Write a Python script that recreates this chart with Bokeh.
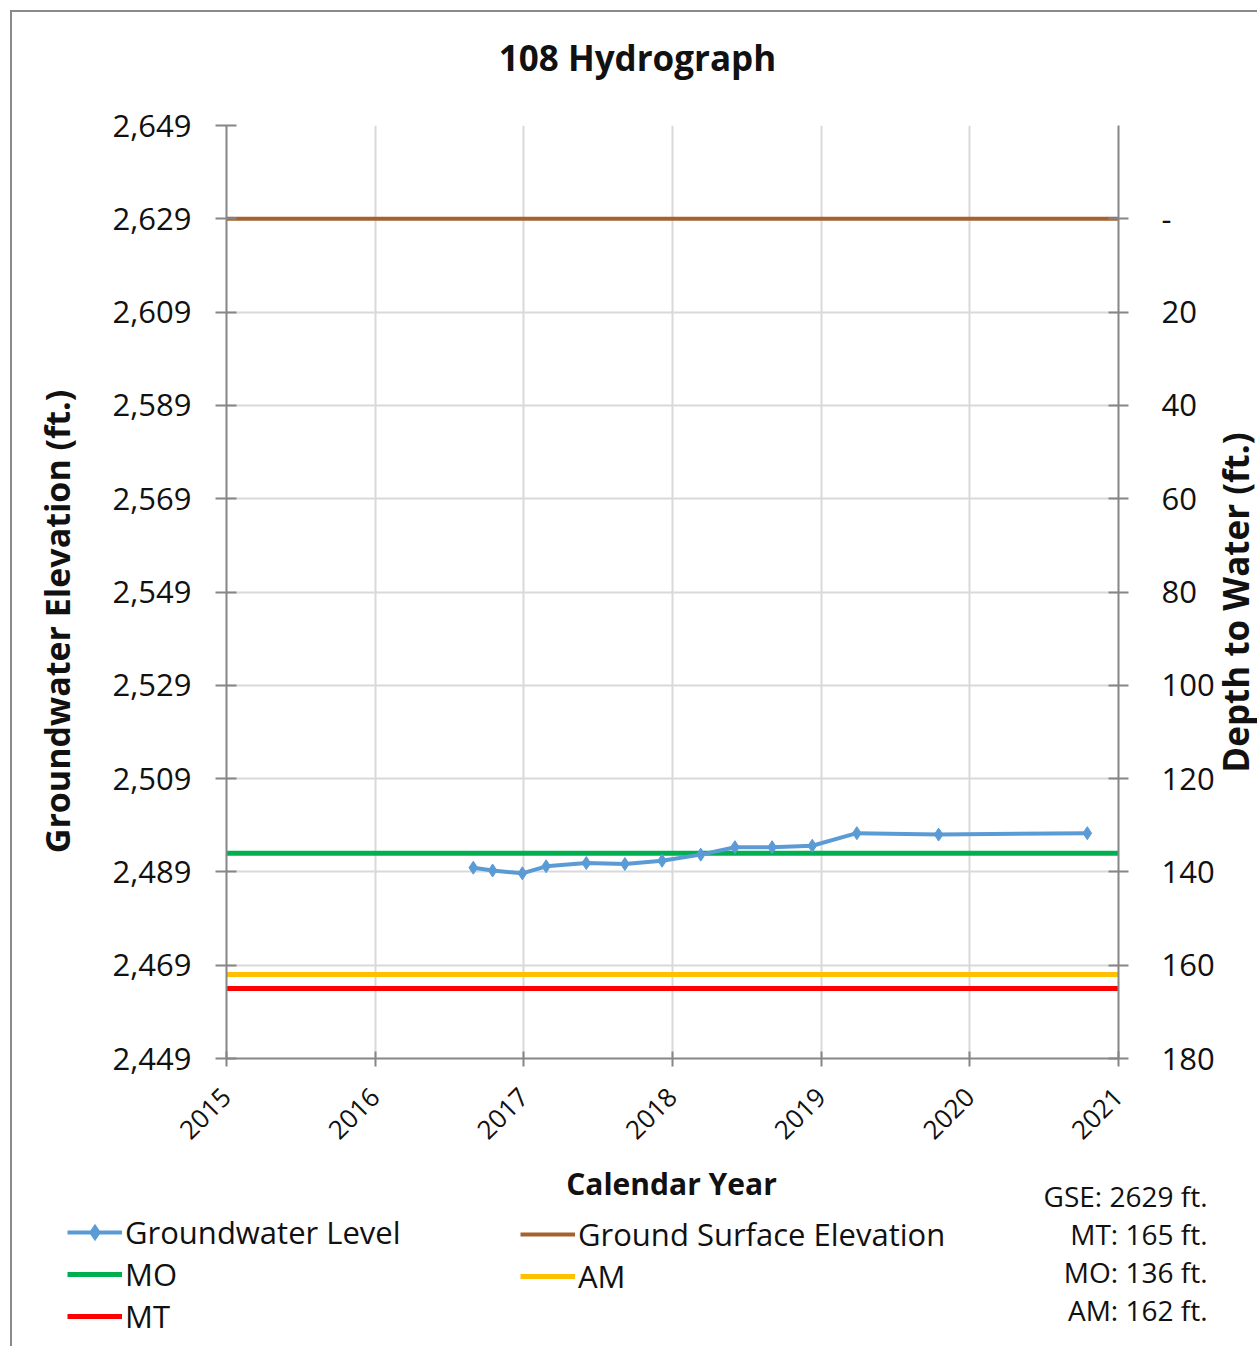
import math
from bokeh.plotting import figure
from bokeh.layouts import column, row
from bokeh.models import (Range1d, LinearAxis, FixedTicker, NumeralTickFormatter,
                          Label, Legend, LegendItem, PrintfTickFormatter, InlineStyleSheet)
from bokeh.embed import file_html
from bokeh.resources import INLINE

# ---------------- data ----------------
title_text = "108 Hydrograph"
x_label = "Calendar Year"
y_label = "Groundwater Elevation (ft.)"
y2_label = "Depth to Water (ft.)"

years = [2015, 2016, 2017, 2018, 2019, 2020, 2021]
gw_year = [2016.66, 2016.79, 2016.99, 2017.15, 2017.42, 2017.68, 2017.93,
           2018.19, 2018.42, 2018.67, 2018.94, 2019.24, 2019.79, 2020.79]
gw_elev = [2489.9, 2489.3, 2488.7, 2490.2, 2490.9, 2490.7, 2491.4,
           2492.7, 2494.3, 2494.3, 2494.6, 2497.3, 2497.0, 2497.3]
gse_elev = 2629
mt_depth = 165
mo_depth = 136
am_depth = 162
elev_ticks = [2449, 2469, 2489, 2509, 2529, 2549, 2569, 2589, 2609, 2629, 2649]
depth_ticks = [0, 20, 40, 60, 80, 100, 120, 140, 160, 180]
depth_overrides = {0: "-"}
info_texts = [f"GSE: {gse_elev} ft.", f"MT: {mt_depth} ft.",
              f"MO: {mo_depth} ft.", f"AM: {am_depth} ft."]

# ---------------- layout constants (page px) ----------------
FONT = "Open Sans"
TXT = "#111111"
W = 1257
HEAD_H = 100           # header strip: 0..100
MAIN_BOT = 1162        # middle row: 100..1162
TOTAL_H = 1346
LEFT_W = 90            # left strip 0..90
RIGHT_X = 1218         # right strip 1218..1257
FL, FR, FT, FB = 226, 1118, 125, 1058  # frame

COLORS = {"gw": "#5B9BD5", "gse": "#A5622E", "mo": "#00B050", "am": "#FFC000", "mt": "#FF0000"}


def strip(x0, x1, y0, y1):
    """A plain drawing surface whose data coordinates equal page pixels."""
    f = figure(width=x1 - x0, height=y1 - y0, output_backend="svg", toolbar_location=None,
               x_range=Range1d(x0, x1), y_range=Range1d(y1, y0),
               min_border=0, x_axis_type=None, y_axis_type=None)
    f.grid.visible = False
    f.outline_line_color = None
    if "frame_align" in f.properties():
        f.frame_align = False
    return f


# ---------------- header (title) ----------------
p0 = strip(0, W, 0, HEAD_H)
p0.add_layout(Label(x=637, y=57, text=title_text, text_font=FONT, text_font_size="35px",
                    text_font_style="bold", text_align="center", text_baseline="middle",
                    text_color=TXT))

# ---------------- side strips (axis titles) ----------------
pl = strip(0, LEFT_W, HEAD_H, MAIN_BOT)
pl.add_layout(Label(x=56, y=621, text=y_label, text_font=FONT, text_font_size="34px",
                    text_font_style="bold", text_align="center", text_baseline="alphabetic",
                    angle=math.pi / 2, text_color=TXT))
pr = strip(RIGHT_X, W, HEAD_H, MAIN_BOT)
pr.add_layout(Label(x=1235, y=602, text=y2_label, text_font=FONT, text_font_size="35px",
                    text_font_style="bold", text_align="center", text_baseline="alphabetic",
                    angle=math.pi / 2, text_color=TXT))

# ---------------- main plot ----------------
X0, X1 = years[0], years[-1]
Y0, Y1 = elev_ticks[0], elev_ticks[-1]
p = figure(width=RIGHT_X - LEFT_W, height=MAIN_BOT - HEAD_H, output_backend="svg",
           toolbar_location=None, x_range=Range1d(X0, X1), y_range=Range1d(Y0, Y1),
           min_border_left=FL - LEFT_W, min_border_right=RIGHT_X - FR,
           min_border_top=FT - HEAD_H, min_border_bottom=MAIN_BOT - FB)
p.outline_line_color = None

p.extra_y_ranges = {"depth": Range1d(start=gse_elev - Y0, end=gse_elev - Y1)}

ax_col = "#868686"
p.xaxis.ticker = FixedTicker(ticks=years)
p.xaxis.formatter = PrintfTickFormatter(format="%d")
p.xaxis.major_label_orientation = math.pi / 4
p.xaxis.major_label_text_font = FONT
p.xaxis.major_label_text_font_size = "26px"
p.xaxis.major_label_text_color = TXT
p.xaxis.major_label_standoff = 26
p.xaxis.axis_line_color = ax_col
p.xaxis.axis_line_width = 2
p.xaxis.major_tick_line_color = ax_col
p.xaxis.major_tick_line_width = 2
p.xaxis.major_tick_in = 7
p.xaxis.major_tick_out = 8
p.xaxis.minor_tick_line_color = None

p.yaxis.ticker = FixedTicker(ticks=elev_ticks)
p.yaxis.formatter = NumeralTickFormatter(format="0,0")
p.yaxis.major_label_text_font = FONT
p.yaxis.major_label_text_font_size = "31px"
p.yaxis.major_label_text_color = TXT
p.yaxis.major_label_standoff = 24
p.yaxis.axis_line_color = ax_col
p.yaxis.axis_line_width = 2
p.yaxis.major_tick_line_color = ax_col
p.yaxis.major_tick_line_width = 2
p.yaxis.major_tick_in = 10
p.yaxis.major_tick_out = 11
p.yaxis.minor_tick_line_color = None

ax2 = LinearAxis(y_range_name="depth", ticker=FixedTicker(ticks=depth_ticks),
                 major_label_overrides=depth_overrides)
ax2.major_label_text_font = FONT
ax2.major_label_text_font_size = "31px"
ax2.major_label_text_color = TXT
ax2.major_label_standoff = 33
ax2.axis_line_color = ax_col
ax2.axis_line_width = 2
ax2.major_tick_line_color = ax_col
ax2.major_tick_line_width = 2
ax2.major_tick_in = 10
ax2.major_tick_out = 10
ax2.minor_tick_line_color = None
p.add_layout(ax2, "right")

p.xgrid.ticker = FixedTicker(ticks=years)
p.ygrid.ticker = FixedTicker(ticks=elev_ticks)
p.xgrid.grid_line_color = "#D9D9D9"
p.ygrid.grid_line_color = "#D9D9D9"
p.xgrid.grid_line_width = 2
p.ygrid.grid_line_width = 2

span_x = [X0, X1]


def draw_series(f):
    r = {}
    r["gse"] = f.line(span_x, [gse_elev, gse_elev], line_color=COLORS["gse"], line_width=4)
    r["mo"] = f.line(span_x, [gse_elev - mo_depth] * 2, line_color=COLORS["mo"], line_width=5)
    r["am"] = f.line(span_x, [gse_elev - am_depth] * 2, line_color=COLORS["am"], line_width=5)
    r["mt"] = f.line(span_x, [gse_elev - mt_depth] * 2, line_color=COLORS["mt"], line_width=5)
    r["gw_l"] = f.line(gw_year, gw_elev, line_color=COLORS["gw"], line_width=4)
    r["gw_m"] = f.scatter(gw_year, gw_elev, marker="diamond", size=13,
                          fill_color=COLORS["gw"], line_color=COLORS["gw"])
    return r


draw_series(p)

# ---------------- footer (axis title, legend, notes) ----------------
p2 = strip(0, W, MAIN_BOT, TOTAL_H)
p2.add_layout(Label(x=671, y=1183, text=x_label, text_font=FONT, text_font_size="30px",
                    text_font_style="bold", text_align="center", text_baseline="middle",
                    text_color=TXT))
for i, t in enumerate(info_texts):
    p2.add_layout(Label(x=1207, y=1195 + 38 * i, text=t, text_font=FONT,
                        text_font_size="28px", text_align="right", text_baseline="middle",
                        text_color=TXT))

# the same series on the footer strip fall outside its view: they only feed the legend swatches
lr = draw_series(p2)


def make_legend(items, loc):
    lg = Legend(items=items, location=loc)
    lg.label_text_font = FONT
    lg.label_text_font_size = "31px"
    lg.label_text_color = TXT
    lg.glyph_width = 55
    lg.glyph_height = 40
    lg.label_height = 40
    lg.label_standoff = 3
    lg.spacing = 0
    lg.padding = 0
    lg.margin = 0
    lg.border_line_color = None
    lg.background_fill_alpha = 0
    return lg


p2.add_layout(make_legend([LegendItem(label="Groundwater Level", renderers=[lr["gw_l"], lr["gw_m"]]),
                           LegendItem(label="MO", renderers=[lr["mo"]]),
                           LegendItem(label="MT", renderers=[lr["mt"]])],
                          (67, TOTAL_H - 1337)))
p2.add_layout(make_legend([LegendItem(label="Ground Surface Elevation", renderers=[lr["gse"]]),
                           LegendItem(label="AM", renderers=[lr["am"]])],
                          (520, TOTAL_H - 1297)))

border_css = InlineStyleSheet(css=(
    ":host::after { content: ''; position: absolute; left: 10px; top: 10px; "
    "width: 1400px; height: 1500px; border-left: 2px solid #8a8a8a; "
    "border-top: 2px solid #8a8a8a; pointer-events: none; }"))

layout = column(p0, row(pl, p, pr, spacing=0), p2, spacing=0, stylesheets=[border_css])

open("out.html", "w").write(file_html(layout, INLINE))
